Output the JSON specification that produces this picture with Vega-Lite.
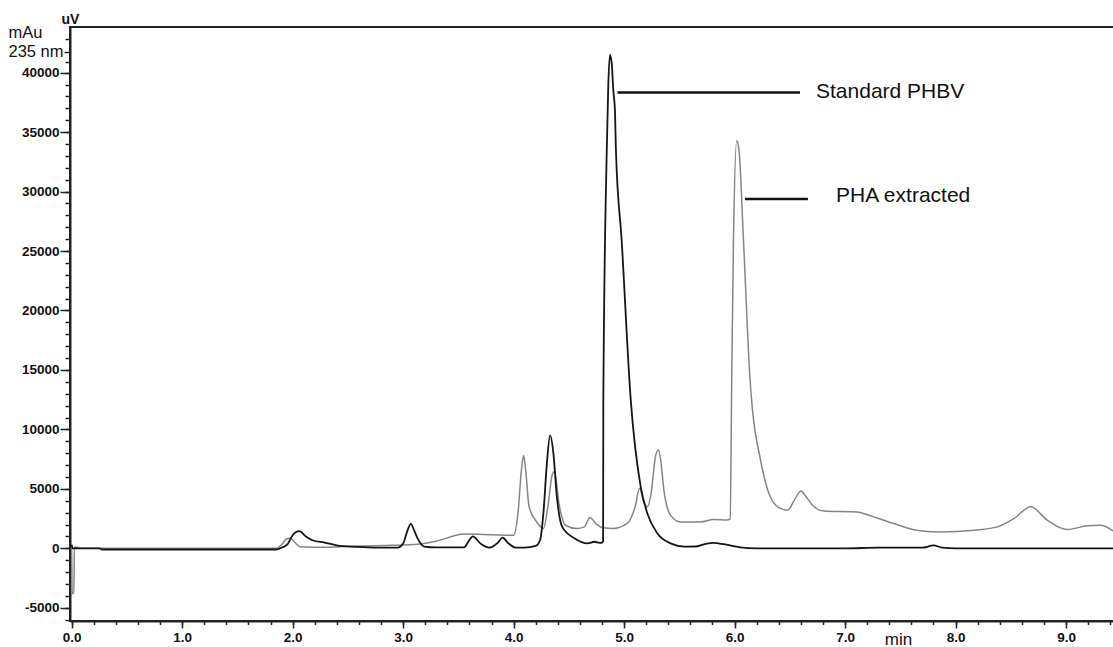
{
  "$schema": "https://vega.github.io/schema/vega-lite/v6.json",
  "autosize": {"type": "none"},
  "padding": {"left": 70, "top": 27, "right": 0, "bottom": 26},
  "width": 1045,
  "height": 594,
  "background": "white",
  "config": {
    "view": {"stroke": "#222", "strokeWidth": 2},
    "font": "Liberation Sans",
    "axis": {"grid": false, "domainColor": "#222", "domainWidth": 2, "tickColor": "#222", "tickWidth": 1.5, "labelColor": "#111", "titleColor": "#111", "labelFont": "Liberation Sans", "titleFont": "Liberation Sans"}
  },
  "datasets": {
    "curves": [
      {"t": 0, "v": 300, "s": "Standard PHBV"}, {"t": 0.01, "v": 0, "s": "Standard PHBV"}, {"t": 0.25, "v": 0, "s": "Standard PHBV"}, {"t": 0.27, "v": -100, "s": "Standard PHBV"}, {"t": 1.85, "v": -100, "s": "Standard PHBV"}, {"t": 1.9, "v": 50, "s": "Standard PHBV"}, {"t": 1.95, "v": 300, "s": "Standard PHBV"}, {"t": 2.0, "v": 1100, "s": "Standard PHBV"}, {"t": 2.06, "v": 1440, "s": "Standard PHBV"}, {"t": 2.12, "v": 1000, "s": "Standard PHBV"}, {"t": 2.18, "v": 680, "s": "Standard PHBV"}, {"t": 2.29, "v": 480, "s": "Standard PHBV"}, {"t": 2.4, "v": 250, "s": "Standard PHBV"}, {"t": 2.58, "v": 120, "s": "Standard PHBV"}, {"t": 2.77, "v": 50, "s": "Standard PHBV"}, {"t": 2.95, "v": 50, "s": "Standard PHBV"}, {"t": 3.0, "v": 400, "s": "Standard PHBV"}, {"t": 3.04, "v": 1500, "s": "Standard PHBV"}, {"t": 3.07, "v": 2050, "s": "Standard PHBV"}, {"t": 3.1, "v": 1500, "s": "Standard PHBV"}, {"t": 3.13, "v": 850, "s": "Standard PHBV"}, {"t": 3.19, "v": 150, "s": "Standard PHBV"}, {"t": 3.3, "v": 80, "s": "Standard PHBV"}, {"t": 3.55, "v": 80, "s": "Standard PHBV"}, {"t": 3.6, "v": 700, "s": "Standard PHBV"}, {"t": 3.63, "v": 1000, "s": "Standard PHBV"}, {"t": 3.7, "v": 400, "s": "Standard PHBV"}, {"t": 3.78, "v": 50, "s": "Standard PHBV"}, {"t": 3.86, "v": 500, "s": "Standard PHBV"}, {"t": 3.9, "v": 900, "s": "Standard PHBV"}, {"t": 3.95, "v": 450, "s": "Standard PHBV"}, {"t": 4.02, "v": 50, "s": "Standard PHBV"}, {"t": 4.1, "v": 50, "s": "Standard PHBV"}, {"t": 4.2, "v": 200, "s": "Standard PHBV"}, {"t": 4.24, "v": 700, "s": "Standard PHBV"}, {"t": 4.27, "v": 3000, "s": "Standard PHBV"}, {"t": 4.3, "v": 7000, "s": "Standard PHBV"}, {"t": 4.33, "v": 9500, "s": "Standard PHBV"}, {"t": 4.36, "v": 8000, "s": "Standard PHBV"}, {"t": 4.39, "v": 4500, "s": "Standard PHBV"}, {"t": 4.44, "v": 1800, "s": "Standard PHBV"}, {"t": 4.55, "v": 850, "s": "Standard PHBV"}, {"t": 4.67, "v": 420, "s": "Standard PHBV"}, {"t": 4.73, "v": 550, "s": "Standard PHBV"}, {"t": 4.79, "v": 450, "s": "Standard PHBV"}, {"t": 4.81, "v": 600, "s": "Standard PHBV"}, {"t": 4.812, "v": 12500, "s": "Standard PHBV"}, {"t": 4.842, "v": 33000, "s": "Standard PHBV"}, {"t": 4.857, "v": 39000, "s": "Standard PHBV"}, {"t": 4.872, "v": 41500, "s": "Standard PHBV"}, {"t": 4.888, "v": 40800, "s": "Standard PHBV"}, {"t": 4.902, "v": 38550, "s": "Standard PHBV"}, {"t": 4.917, "v": 36850, "s": "Standard PHBV"}, {"t": 4.926, "v": 33500, "s": "Standard PHBV"}, {"t": 4.978, "v": 25900, "s": "Standard PHBV"}, {"t": 5.06, "v": 12500, "s": "Standard PHBV"}, {"t": 5.15, "v": 5180, "s": "Standard PHBV"}, {"t": 5.21, "v": 2950, "s": "Standard PHBV"}, {"t": 5.3, "v": 1260, "s": "Standard PHBV"}, {"t": 5.42, "v": 420, "s": "Standard PHBV"}, {"t": 5.55, "v": 140, "s": "Standard PHBV"}, {"t": 5.65, "v": 150, "s": "Standard PHBV"}, {"t": 5.75, "v": 400, "s": "Standard PHBV"}, {"t": 5.81, "v": 450, "s": "Standard PHBV"}, {"t": 5.9, "v": 350, "s": "Standard PHBV"}, {"t": 6.05, "v": 80, "s": "Standard PHBV"}, {"t": 6.2, "v": 0, "s": "Standard PHBV"}, {"t": 7.0, "v": 0, "s": "Standard PHBV"}, {"t": 7.3, "v": 50, "s": "Standard PHBV"}, {"t": 7.7, "v": 50, "s": "Standard PHBV"}, {"t": 7.8, "v": 250, "s": "Standard PHBV"}, {"t": 7.88, "v": 50, "s": "Standard PHBV"}, {"t": 8.0, "v": 0, "s": "Standard PHBV"}, {"t": 9.45, "v": 0, "s": "Standard PHBV"},
      {"t": 0, "v": 0, "s": "PHA extracted"}, {"t": 0.005, "v": -3800, "s": "PHA extracted"}, {"t": 0.02, "v": -3800, "s": "PHA extracted"}, {"t": 0.025, "v": 100, "s": "PHA extracted"}, {"t": 0.1, "v": 0, "s": "PHA extracted"}, {"t": 1.85, "v": 0, "s": "PHA extracted"}, {"t": 1.9, "v": 300, "s": "PHA extracted"}, {"t": 1.95, "v": 820, "s": "PHA extracted"}, {"t": 1.98, "v": 850, "s": "PHA extracted"}, {"t": 2.02, "v": 500, "s": "PHA extracted"}, {"t": 2.07, "v": 130, "s": "PHA extracted"}, {"t": 2.3, "v": 80, "s": "PHA extracted"}, {"t": 2.6, "v": 200, "s": "PHA extracted"}, {"t": 2.9, "v": 250, "s": "PHA extracted"}, {"t": 3.13, "v": 350, "s": "PHA extracted"}, {"t": 3.3, "v": 600, "s": "PHA extracted"}, {"t": 3.55, "v": 1200, "s": "PHA extracted"}, {"t": 3.8, "v": 1150, "s": "PHA extracted"}, {"t": 4.0, "v": 1100, "s": "PHA extracted"}, {"t": 4.04, "v": 3000, "s": "PHA extracted"}, {"t": 4.07, "v": 6500, "s": "PHA extracted"}, {"t": 4.09, "v": 7800, "s": "PHA extracted"}, {"t": 4.11, "v": 6500, "s": "PHA extracted"}, {"t": 4.14, "v": 3500, "s": "PHA extracted"}, {"t": 4.21, "v": 2200, "s": "PHA extracted"}, {"t": 4.27, "v": 1660, "s": "PHA extracted"}, {"t": 4.31, "v": 3500, "s": "PHA extracted"}, {"t": 4.35, "v": 6200, "s": "PHA extracted"}, {"t": 4.37, "v": 6450, "s": "PHA extracted"}, {"t": 4.41, "v": 3800, "s": "PHA extracted"}, {"t": 4.47, "v": 1940, "s": "PHA extracted"}, {"t": 4.57, "v": 1660, "s": "PHA extracted"}, {"t": 4.64, "v": 1800, "s": "PHA extracted"}, {"t": 4.69, "v": 2590, "s": "PHA extracted"}, {"t": 4.75, "v": 2030, "s": "PHA extracted"}, {"t": 4.81, "v": 1720, "s": "PHA extracted"}, {"t": 4.9, "v": 1660, "s": "PHA extracted"}, {"t": 5.03, "v": 2110, "s": "PHA extracted"}, {"t": 5.1, "v": 3500, "s": "PHA extracted"}, {"t": 5.14, "v": 5050, "s": "PHA extracted"}, {"t": 5.18, "v": 3800, "s": "PHA extracted"}, {"t": 5.21, "v": 3490, "s": "PHA extracted"}, {"t": 5.25, "v": 5000, "s": "PHA extracted"}, {"t": 5.28, "v": 7500, "s": "PHA extracted"}, {"t": 5.31, "v": 8280, "s": "PHA extracted"}, {"t": 5.33, "v": 7500, "s": "PHA extracted"}, {"t": 5.36, "v": 4900, "s": "PHA extracted"}, {"t": 5.42, "v": 2790, "s": "PHA extracted"}, {"t": 5.51, "v": 2220, "s": "PHA extracted"}, {"t": 5.69, "v": 2220, "s": "PHA extracted"}, {"t": 5.81, "v": 2420, "s": "PHA extracted"}, {"t": 5.93, "v": 2370, "s": "PHA extracted"}, {"t": 5.96, "v": 2500, "s": "PHA extracted"}, {"t": 5.975, "v": 15000, "s": "PHA extracted"}, {"t": 5.99, "v": 26000, "s": "PHA extracted"}, {"t": 6.02, "v": 34300, "s": "PHA extracted"}, {"t": 6.04, "v": 33500, "s": "PHA extracted"}, {"t": 6.08, "v": 26000, "s": "PHA extracted"}, {"t": 6.14, "v": 14200, "s": "PHA extracted"}, {"t": 6.24, "v": 7180, "s": "PHA extracted"}, {"t": 6.3, "v": 4900, "s": "PHA extracted"}, {"t": 6.39, "v": 3490, "s": "PHA extracted"}, {"t": 6.48, "v": 3210, "s": "PHA extracted"}, {"t": 6.55, "v": 4200, "s": "PHA extracted"}, {"t": 6.6, "v": 4820, "s": "PHA extracted"}, {"t": 6.65, "v": 4300, "s": "PHA extracted"}, {"t": 6.72, "v": 3490, "s": "PHA extracted"}, {"t": 6.81, "v": 3130, "s": "PHA extracted"}, {"t": 7.11, "v": 3050, "s": "PHA extracted"}, {"t": 7.2, "v": 2830, "s": "PHA extracted"}, {"t": 7.44, "v": 2080, "s": "PHA extracted"}, {"t": 7.68, "v": 1470, "s": "PHA extracted"}, {"t": 7.86, "v": 1370, "s": "PHA extracted"}, {"t": 8.17, "v": 1520, "s": "PHA extracted"}, {"t": 8.38, "v": 1800, "s": "PHA extracted"}, {"t": 8.53, "v": 2510, "s": "PHA extracted"}, {"t": 8.68, "v": 3490, "s": "PHA extracted"}, {"t": 8.83, "v": 2370, "s": "PHA extracted"}, {"t": 9.01, "v": 1580, "s": "PHA extracted"}, {"t": 9.19, "v": 1890, "s": "PHA extracted"}, {"t": 9.31, "v": 1940, "s": "PHA extracted"}, {"t": 9.45, "v": 1300, "s": "PHA extracted"}
    ],
    "pointers": [
      {"x1": 4.94, "x2": 6.592, "y": 38335, "label": "Standard PHBV", "lx": 6.737, "ly": 38335},
      {"x1": 6.094, "x2": 6.664, "y": 29378, "label": "PHA extracted", "lx": 6.918, "ly": 29630}
    ]
  },
  "resolve": {"axis": {"x": "independent", "y": "independent"}},
  "layer": [
    {
      "data": {"name": "curves"},
      "transform": [{"filter": "datum.s == 'PHA extracted'"}],
      "mark": {"type": "line", "color": "#858585", "strokeWidth": 1.5, "interpolate": "monotone"},
      "encoding": {
        "x": {"field": "t", "type": "quantitative", "scale": {"domain": [-0.015, 9.443], "nice": false, "zero": false}, "axis": null},
        "y": {"field": "v", "type": "quantitative", "scale": {"domain": [-6114, 43843], "nice": false, "zero": false}, "axis": null}
      }
    },
    {
      "data": {"name": "curves"},
      "transform": [{"filter": "datum.s == 'Standard PHBV'"}],
      "mark": {"type": "line", "color": "#151515", "strokeWidth": 1.8, "interpolate": "monotone"},
      "encoding": {
        "x": {"field": "t", "type": "quantitative", "scale": {"domain": [-0.015, 9.443], "nice": false, "zero": false},
          "axis": {"orient": "bottom", "values": [0, 1, 2, 3, 4, 5, 6, 7, 8, 9], "format": ".1f", "tickSize": 7, "labelFontSize": 13.5, "labelFontWeight": "bold", "labelPadding": 2, "labelFlush": false,
            "title": "min", "titleFontSize": 17, "titleFontWeight": "normal", "titleX": 828, "titleY": 18, "titleAlign": "center", "titleBaseline": "middle"}},
        "y": {"field": "v", "type": "quantitative", "scale": {"domain": [-6114, 43843], "nice": false, "zero": false},
          "axis": {"orient": "left", "values": [-5000, 0, 5000, 10000, 15000, 20000, 25000, 30000, 35000, 40000, 41750],
            "labelExpr": "datum.value == 41750 ? '235 nm' : '' + datum.value",
            "tickSize": {"condition": {"test": "datum.value == 41750", "value": 6}, "value": 10},
            "labelFontSize": {"condition": {"test": "datum.value == 41750", "value": 16.5}, "value": 13.5},
            "labelFontWeight": {"condition": {"test": "datum.value == 41750", "value": "normal"}, "value": "bold"},
            "labelPadding": 1, "labelFlush": false,
            "title": "mAu", "titleAngle": 0, "titleFontSize": 16.5, "titleFontWeight": "normal", "titleX": -45, "titleY": 5, "titleAlign": "center", "titleBaseline": "middle"}}
      }
    },
    {
      "data": {"name": "pointers"},
      "mark": {"type": "rule", "color": "#111", "strokeWidth": 2.5},
      "encoding": {
        "x": {"field": "x1", "type": "quantitative", "scale": {"domain": [-0.015, 9.443], "nice": false, "zero": false},
          "axis": {"orient": "bottom", "values": [0, 0.2, 0.4, 0.6, 0.8, 1, 1.2, 1.4, 1.6, 1.8, 2, 2.2, 2.4, 2.6, 2.8, 3, 3.2, 3.4, 3.6, 3.8, 4, 4.2, 4.4, 4.6, 4.8, 5, 5.2, 5.4, 5.6, 5.8, 6, 6.2, 6.4, 6.6, 6.8, 7, 7.2, 7.4, 7.6, 7.8, 8, 8.2, 8.4, 8.6, 8.8, 9, 9.2, 9.4], "labels": false, "tickSize": 3.5, "domain": false, "title": null}},
        "x2": {"field": "x2"},
        "y": {"field": "y", "type": "quantitative", "scale": {"domain": [-6114, 43843], "nice": false, "zero": false},
          "axis": {"orient": "left", "values": [-6000, -5000, -4000, -3000, -2000, -1000, 0, 1000, 2000, 3000, 4000, 5000, 6000, 7000, 8000, 9000, 10000, 11000, 12000, 13000, 14000, 15000, 16000, 17000, 18000, 19000, 20000, 21000, 22000, 23000, 24000, 25000, 26000, 27000, 28000, 29000, 30000, 31000, 32000, 33000, 34000, 35000, 36000, 37000, 38000, 39000, 40000, 40900, 42800], "labels": false, "tickSize": 5, "domain": false,
            "title": "uV", "titleAngle": 0, "titleFontSize": 14, "titleFontWeight": "bold", "titleX": 0, "titleY": -8, "titleAlign": "center", "titleBaseline": "middle"}}
      }
    },
    {
      "data": {"name": "pointers"},
      "mark": {"type": "text", "align": "left", "baseline": "middle", "font": "Liberation Sans", "fontSize": 21, "color": "#111"},
      "encoding": {
        "x": {"field": "lx", "type": "quantitative", "scale": {"domain": [-0.015, 9.443], "nice": false, "zero": false}, "axis": null},
        "y": {"field": "ly", "type": "quantitative", "scale": {"domain": [-6114, 43843], "nice": false, "zero": false}, "axis": null},
        "text": {"field": "label"}
      }
    }
  ]
}
